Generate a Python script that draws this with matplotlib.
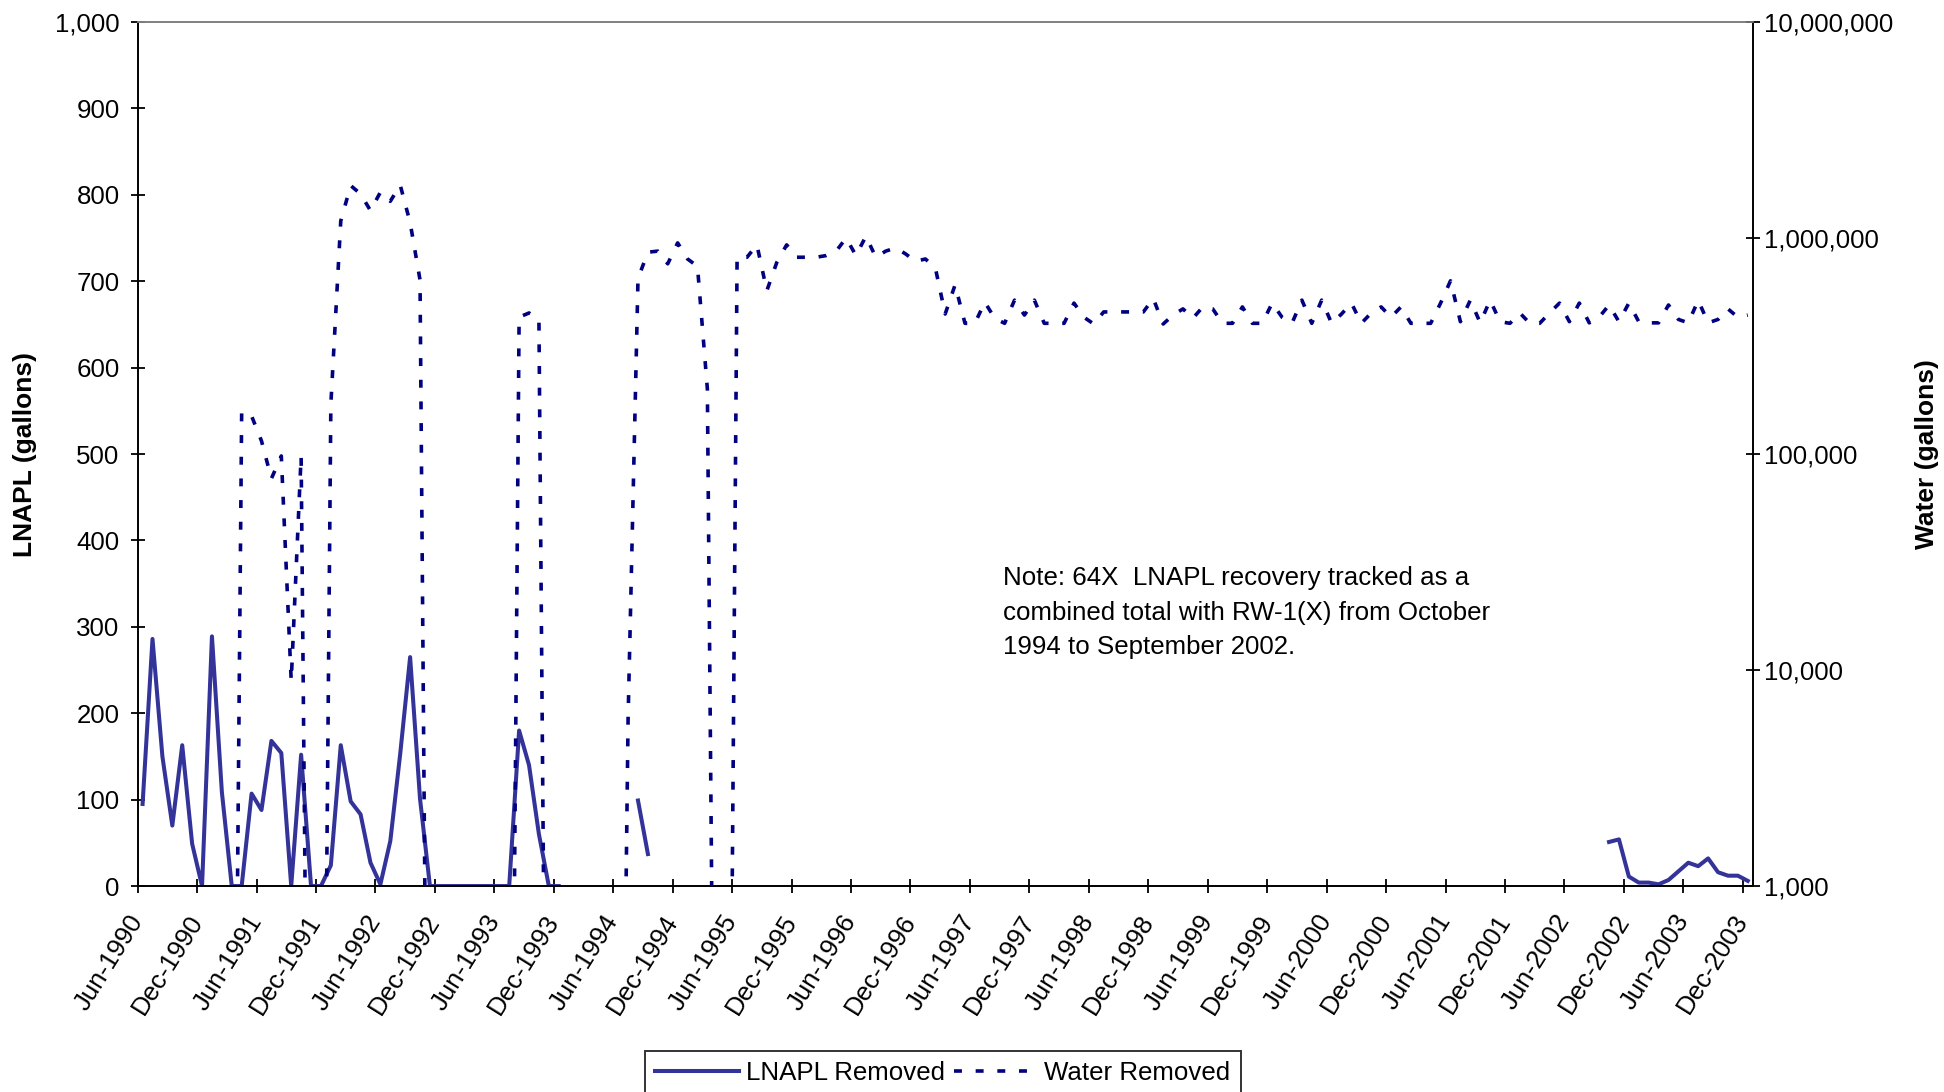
#!/usr/bin/env python3

"""
plot.py
LNAPL and water removed at 64X, Jun-1990 to Dec-2003 (monthly)"""

import numpy as np
import matplotlib
matplotlib.use("Agg")
import matplotlib.pyplot as plt
from matplotlib.ticker import FixedLocator, FuncFormatter, NullLocator

plt.rcParams["font.family"] = ["Liberation Sans", "DejaVu Sans"]

# month 0 = Jun-1990, month 162 = Dec-2003
n_months = 163
tick_years = list(range(1990, 2004))
tick_labels = []
for yr in tick_years:
    tick_labels.append("Jun-" + str(yr))
    tick_labels.append("Dec-" + str(yr))

# LNAPL removed (gallons), months 0-42
lnapl_early = [95, 286, 150, 70, 163, 49, 0, 289, 109, 0,
               0, 107, 88, 168, 154, 0, 152, 0, 0, 24,
               163, 98, 83, 27, 2, 52, 153, 265, 101, 0,
               0, 0, 0, 0, 0, 0, 0, 0, 180, 140,
               60, 0, 0]
# months 50-51
lnapl_1994 = [99, 37]
# months 148-162
lnapl_late = [51, 54, 11, 4, 4, 2, 7, 17, 27, 23, 32, 16, 12, 12, 6]

# water removed (gallons), months 0-162
water = [0, 0, 0, 0, 0, 0, 0, 0, 0, 0,
         157000, 150000, 115000, 77000, 98000, 8900, 98000, 0, 0, 170000,
         1200000, 1750000, 1600000, 1340000, 1630000, 1480000, 1760000, 1180000, 640000, 0,
         0, 0, 0, 0, 0, 0, 0, 0, 430000, 450000,
         420000, 0, 0, 0, 0, 0, 0, 0, 0, 6000,
         650000, 860000, 870000, 760000, 950000, 800000, 740000, 200000, 0, 0,
         815000, 815000, 930000, 570000, 770000, 930000, 815000, 815000, 815000, 830000,
         870000, 1000000, 830000, 1020000, 815000, 870000, 900000, 845000, 780000, 800000,
         730000, 445000, 607000, 403000, 403000, 505000, 425000, 403000, 516000, 440000,
         516000, 403000, 403000, 403000, 500000, 430000, 400000, 455000, 455000, 455000,
         455000, 455000, 525000, 400000, 440000, 470000, 425000, 480000, 470000, 403000,
         403000, 480000, 403000, 403000, 500000, 430000, 403000, 516000, 403000, 516000,
         403000, 445000, 500000, 403000, 450000, 480000, 430000, 480000, 403000, 403000,
         403000, 500000, 634000, 410000, 516000, 405000, 516000, 410000, 403000, 450000,
         403000, 403000, 450000, 500000, 410000, 500000, 405000, 430000, 490000, 410000,
         500000, 410000, 405000, 405000, 490000, 420000, 405000, 515000, 405000, 420000,
         470000, 430000, 440000]

# points sit mid-month
x = np.arange(n_months) + 0.5

lnapl = np.full(n_months, np.nan)
lnapl[0:43] = lnapl_early
lnapl[50:52] = lnapl_1994
lnapl[148:163] = lnapl_late

w = np.array(water, dtype=float)
# zero months drop off the bottom of the log axis like in the original spreadsheet
w_plot = np.where(w > 0, w, 1.0)

fs = 18.6
solid_col = "#333399"
dot_col = "#000080"

fig = plt.figure(figsize=(19.44, 10.92), dpi=100)
ax = fig.add_axes([0.0708, 0.1886, 0.8308, 0.7912])
ax2 = ax.twinx()

l1, = ax.plot(x, lnapl, color=solid_col, lw=2.9, label="LNAPL Removed")
l2, = ax2.plot(x, w_plot, color=dot_col, lw=2.6, linestyle=(0, (2.2, 3.8)),
               dash_capstyle="butt", label="Water Removed")

ax.set_xlim(0, n_months)
ax.set_ylim(0, 1000)
ax.set_yticks(np.arange(0, 1001, 100))
ax.yaxis.set_major_formatter(FuncFormatter(lambda v, p: "{:,}".format(int(v))))
ax.set_xticks(np.arange(0, n_months, 6))
ax.set_xticklabels(tick_labels, rotation=58, ha="right", va="center",
                   rotation_mode="anchor", fontsize=fs)

ax2.set_yscale("log")
ax2.set_ylim(1e3, 1e7)
ax2.yaxis.set_major_locator(FixedLocator([1e3, 1e4, 1e5, 1e6, 1e7]))
ax2.yaxis.set_minor_locator(NullLocator())
ax2.yaxis.set_major_formatter(FuncFormatter(lambda v, p: "{:,}".format(int(round(v)))))

ax.tick_params(axis="y", direction="inout", length=10, width=1.3, labelsize=fs, pad=8)
ax.tick_params(axis="x", direction="inout", length=10, width=1.3, labelsize=fs, pad=17)
ax2.tick_params(axis="y", direction="inout", length=10, width=1.3, labelsize=fs, pad=3)

for a in (ax, ax2):
    a.spines["top"].set_color("#808080")
    a.spines["top"].set_linewidth(1.2)
ax.spines["left"].set_linewidth(1.4)
ax.spines["bottom"].set_linewidth(1.4)
ax.spines["right"].set_visible(False)
ax2.spines["right"].set_linewidth(1.4)
ax2.spines["left"].set_visible(False)
ax2.spines["bottom"].set_visible(False)

fig.text(0.0129, 0.584, "LNAPL (gallons)", rotation=90, ha="center", va="center",
         fontsize=19, fontweight="bold")
fig.text(0.991, 0.584, "Water (gallons)", rotation=90, ha="center", va="center",
         fontsize=19, fontweight="bold")

ax.text(0.536, 0.370, "Note: 64X  LNAPL recovery tracked as a\n"
        "combined total with RW-1(X) from October\n"
        "1994 to September 2002.", transform=ax.transAxes,
        ha="left", va="top", fontsize=fs, linespacing=1.55)

leg = fig.legend([l1, l2], ["LNAPL Removed", "Water Removed"], loc="upper center",
                 bbox_to_anchor=(0.485, 0.0495), ncol=2, fontsize=fs,
                 frameon=True, fancybox=False, handlelength=3.25,
                 handletextpad=0.25, columnspacing=0.35, borderpad=0.4)
leg.get_frame().set_edgecolor("black")
leg.get_frame().set_linewidth(1.4)

fig.savefig("out.png", dpi=100)
plt.close()
